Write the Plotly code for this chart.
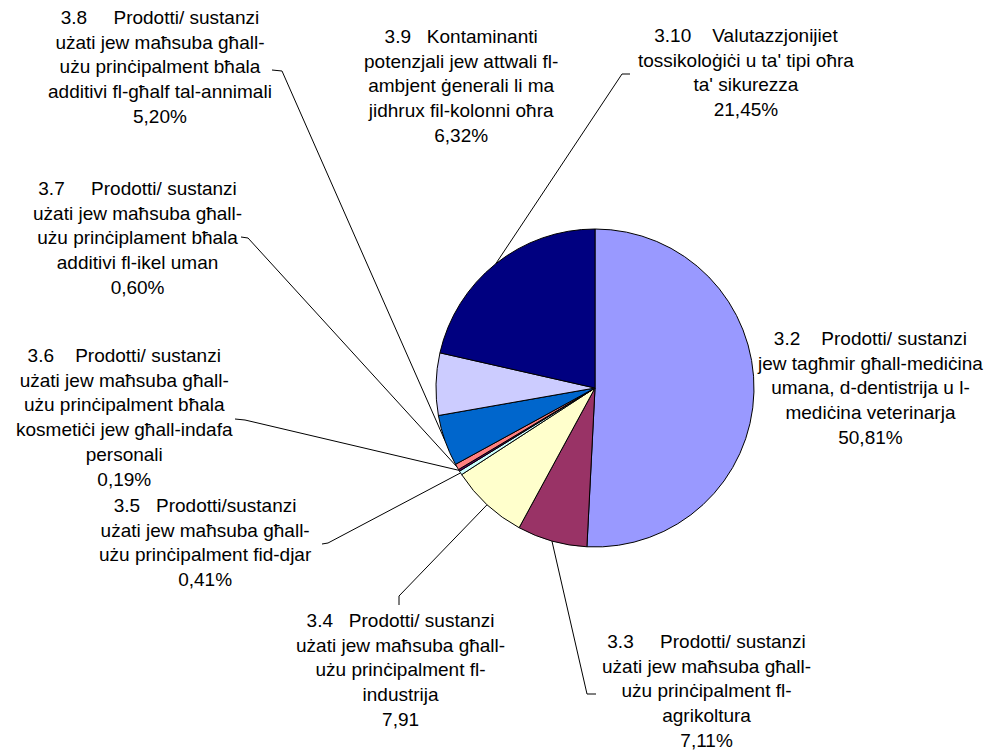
import math
import plotly.graph_objects as go

# slice data, clockwise from 12 o'clock
codes = ["3.2", "3.3", "3.4", "3.5", "3.6", "3.7", "3.8", "3.9", "3.10"]
values = [50.81, 7.11, 7.91, 0.41, 0.19, 0.60, 5.20, 6.32, 21.45]
value_labels = ["50,81%", "7,11%", "7,91", "0,41%", "0,19%", "0,60%", "5,20%", "6,32%", "21,45%"]
label_lines = [
    ["3.2    Prodotti/ sustanzi", "jew tagħmir għall-mediċina", "umana, d-dentistrija u l-", "mediċina veterinarja"],
    ["3.3     Prodotti/ sustanzi", "użati jew maħsuba għall-", "użu prinċipalment fl-", "agrikoltura"],
    ["3.4   Prodotti/ sustanzi", "użati jew maħsuba għall-", "użu prinċipalment fl-", "industrija"],
    ["3.5   Prodotti/sustanzi", "użati jew maħsuba għall-", "użu prinċipalment fid-djar"],
    ["3.6    Prodotti/ sustanzi", "użati jew maħsuba għall-", "użu prinċipalment bħala", "kosmetiċi jew għall-indafa", "personali"],
    ["3.7     Prodotti/ sustanzi", "użati jew maħsuba għall-", "użu prinċiplament bħala", "additivi fl-ikel uman"],
    ["3.8     Prodotti/ sustanzi", "użati jew maħsuba għall-", "użu prinċipalment bħala", "additivi fl-għalf tal-annimali"],
    ["3.9   Kontaminanti", "potenzjali jew attwali fl-", "ambjent ġenerali li ma", "jidhrux fil-kolonni oħra"],
    ["3.10    Valutazzjonijiet", "tossikoloġiċi u ta' tipi oħra", "ta' sikurezza"],
]
colours = ["#9999FF", "#993366", "#FFFFCC", "#CCFFFF", "#660066", "#FF8080", "#0066CC", "#CCCCFF", "#000080"]

W, H = 994, 753
cx, cy, r = 595, 388, 159

# label block centres (pixels) and leader line elbow/end points
label_pos = [(870, 388), (706, 691), (400, 670), (205, 542), (124, 417), (137, 238), (160, 67), (461, 86), (746, 72)]
leaders = {
    1: [(587, 694), (596, 694)],
    2: [(399, 596), (399, 605)],
    3: [(328, 543), (322, 544)],
    4: [(245, 420), (235, 419)],
    5: [(248, 238), (241, 237)],
    6: [(282, 71), (272, 70)],
    8: [(622, 74), (630, 74)],
}

fig = go.Figure()

fig.add_trace(go.Pie(
    values=values,
    labels=codes,
    sort=False,
    direction="clockwise",
    rotation=0,
    marker=dict(colors=colours, line=dict(color="black", width=1)),
    textinfo="none",
    hoverinfo="label+percent",
    showlegend=False,
    domain=dict(x=[(cx - r) / W, (cx + r) / W], y=[1 - (cy + r) / H, 1 - (cy - r) / H]),
))

# leader lines from slice midpoints on the rim
total = sum(values)
cum = 0
lx, ly = [], []
for i, v in enumerate(values):
    mid = (cum + v / 2) / total
    cum += v
    if i not in leaders:
        continue
    th = 2 * math.pi * mid
    px, py = cx + r * math.sin(th), cy - r * math.cos(th)
    pts = [(px, py)] + leaders[i]
    lx += [p[0] for p in pts] + [None]
    ly += [p[1] for p in pts] + [None]

fig.add_trace(go.Scatter(x=lx, y=ly, mode="lines", line=dict(color="black", width=1),
                         hoverinfo="skip", showlegend=False))

for i, lines in enumerate(label_lines):
    txt = "<br>".join([l.replace(" ", "\u00a0") if l.startswith("3.") else l for l in lines] + [value_labels[i]])
    fig.add_annotation(
        x=label_pos[i][0], y=label_pos[i][1], xref="x", yref="y",
        text=txt, showarrow=False, xanchor="center", yanchor="middle", align="center",
        font=dict(family="Arial, Liberation Sans, sans-serif", size=19, color="black"),
    )

fig.update_xaxes(range=[0, W], visible=False, fixedrange=True)
fig.update_yaxes(range=[H, 0], visible=False, fixedrange=True)
fig.update_layout(
    width=W, height=H,
    margin=dict(l=0, r=0, t=0, b=0),
    paper_bgcolor="white",
    plot_bgcolor="white",
    xaxis=dict(domain=[0, 1]),
    yaxis=dict(domain=[0, 1]),
)

# drop the default 8px body margin so the figure sits at the page corner
fig.write_html(
    "out.html",
    config={"displayModeBar": False},
    post_script="document.body.style.margin='0';document.body.style.overflow='hidden';",
)
